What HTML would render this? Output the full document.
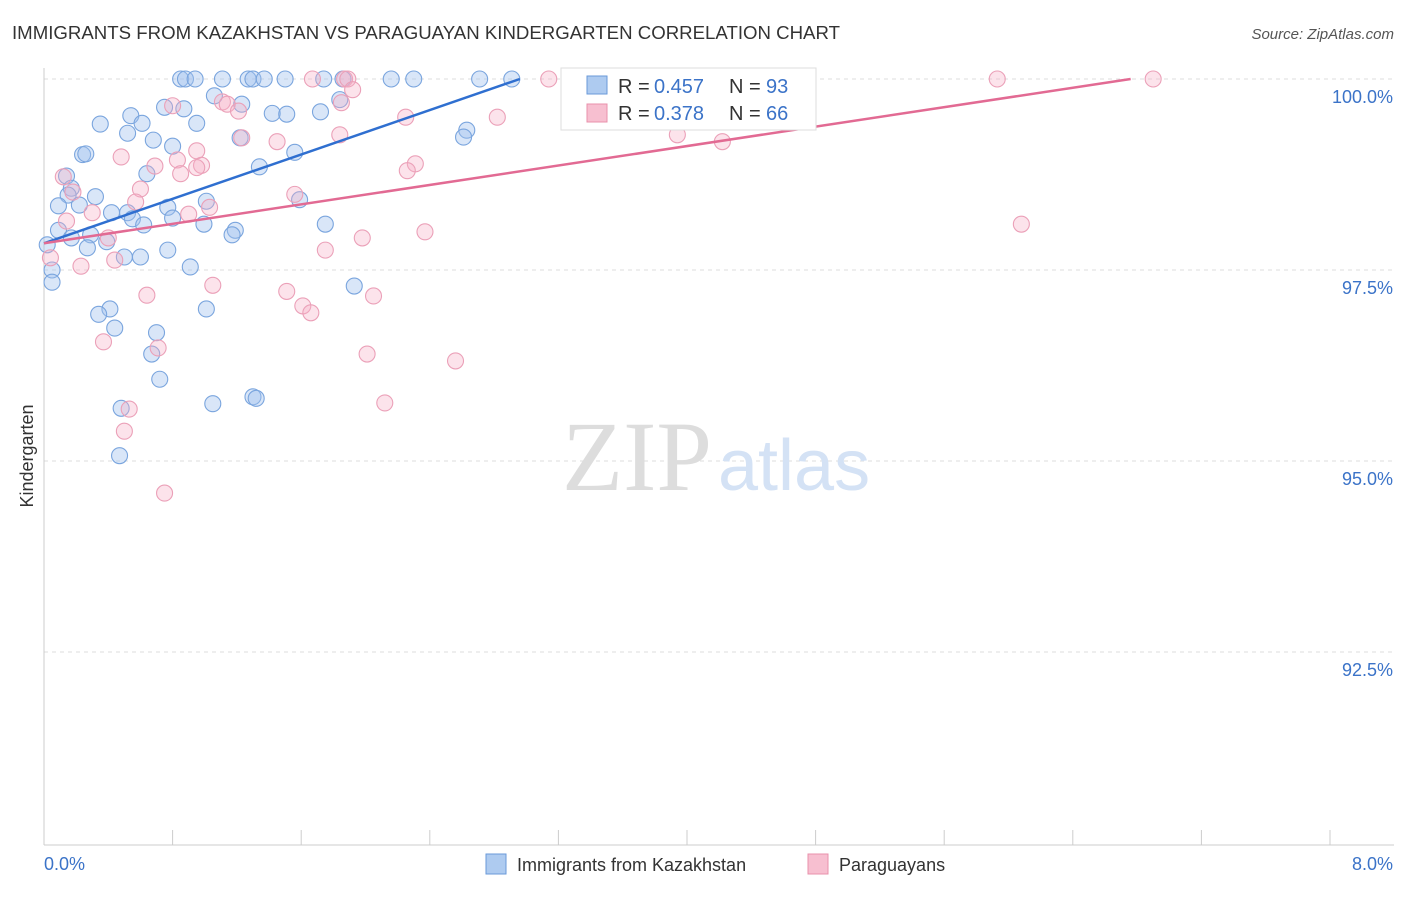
<!DOCTYPE html>
<html><head><meta charset="utf-8"><style>
body{margin:0;background:#fff;font-family:"Liberation Sans",sans-serif}
</style></head><body>
<svg id="chart" width="1406" height="892" viewBox="0 0 1406 892" xmlns="http://www.w3.org/2000/svg" style="font-family:'Liberation Sans',sans-serif">
<text x="12" y="39" font-size="18" fill="#333" textLength="828" lengthAdjust="spacingAndGlyphs">IMMIGRANTS FROM KAZAKHSTAN VS PARAGUAYAN KINDERGARTEN CORRELATION CHART</text>
<text x="1394" y="39" font-size="15" fill="#555" text-anchor="end" font-style="italic">Source: ZipAtlas.com</text>
<g id="grid"></g>
<text x="712" y="490" font-size="100" fill="#ddd" text-anchor="end" style="font-family:'Liberation Serif',serif">ZIP</text>
<text x="718" y="490" font-size="72" fill="#d4e2f5">atlas</text>
<g id="pts"></g>
<g id="lines"></g>
<text transform="translate(33,456) rotate(-90)" font-size="18" fill="#333" text-anchor="middle">Kindergarten</text>
<g>
<rect x="561" y="68" width="255" height="62" fill="#fff" stroke="#ddd"/>
<rect x="587" y="76" width="20" height="18" fill="#aecbf0" stroke="#6a9ad9"/>
<rect x="587" y="104" width="20" height="18" fill="#f7bfd0" stroke="#e890ab"/>
<text x="618" y="93" font-size="20" fill="#333">R =</text>
<text x="654" y="93" font-size="20" fill="#3b73c8">0.457</text>
<text x="729" y="93" font-size="20" fill="#333">N =</text>
<text x="766" y="93" font-size="20" fill="#3b73c8">93</text>
<text x="618" y="120" font-size="20" fill="#333">R =</text>
<text x="654" y="120" font-size="20" fill="#3b73c8">0.378</text>
<text x="729" y="120" font-size="20" fill="#333">N =</text>
<text x="766" y="120" font-size="20" fill="#3b73c8">66</text>
</g>
<g>
<rect x="486" y="854" width="20" height="20" fill="#aecbf0" stroke="#6a9ad9"/>
<text x="517" y="871" font-size="18" fill="#333">Immigrants from Kazakhstan</text>
<rect x="808" y="854" width="20" height="20" fill="#f7bfd0" stroke="#e890ab"/>
<text x="839" y="871" font-size="18" fill="#333">Paraguayans</text>
</g>
</svg>
<script>
const yTicks=[100,97.5,95,92.5];
const yTickLabels=["100.0%","97.5%","95.0%","92.5%"];
const xTickCount=10;
const blueX=[0.85,0.88,0.94,1.11,1.27,1.30,1.37,1.50,1.74,1.86,2.16,2.30,2.71,2.91,3.28,1.06,1.23,0.75,0.87,1.42,1.51,1.72,1.84,0.54,0.35,0.61,0.95,0.52,1.22,0.68,0.80,2.63,2.61,1.56,0.24,0.26,1.34,0.64,0.14,0.17,0.32,0.15,0.09,0.22,1.01,1.59,0.77,0.42,0.52,0.55,0.80,0.62,0.995,1.75,1.19,1.17,0.09,0.17,0.29,0.39,0.27,0.02,0.77,0.50,0.60,0.91,0.05,0.05,1.93,0.41,0.34,1.01,0.44,0.70,0.67,0.72,1.30,1.32,1.05,0.48,0.47];
const blueY=[100,100,100,100,100,100,100,100,100,100,100,100,100,100,100,99.78,99.67,99.63,99.61,99.55,99.54,99.57,99.73,99.52,99.41,99.42,99.42,99.29,99.23,99.20,99.12,99.33,99.24,99.04,99.01,99.02,98.85,98.76,98.73,98.57,98.46,98.48,98.34,98.35,98.40,98.42,98.32,98.25,98.25,98.17,98.18,98.09,98.10,98.10,98.02,97.96,98.02,97.92,97.96,97.87,97.79,97.83,97.76,97.67,97.67,97.54,97.50,97.34,97.29,96.99,96.92,96.99,96.74,96.68,96.40,96.07,95.84,95.82,95.75,95.69,95.07];
const pinkX=[1.67,1.87,1.89,3.14,4.29,5.93,6.90,3.43,1.92,1.85,0.80,1.11,1.14,1.21,2.82,2.25,1.84,1.23,3.94,4.22,1.45,0.95,0.48,0.83,0.69,0.98,0.95,2.31,2.26,0.85,0.12,0.60,0.18,1.56,0.57,1.03,0.90,0.30,0.14,6.08,2.37,0.40,1.98,1.75,0.44,0.23,0.04,1.05,1.51,0.64,2.05,1.61,1.66,0.37,0.71,2.01,2.56,2.12,0.53,0.50,0.75];
const pinkY=[100,100,100,100,100,100,100,99.67,99.86,99.69,99.65,99.70,99.67,99.58,99.50,99.50,99.27,99.23,99.27,99.18,99.18,99.06,98.98,98.94,98.86,98.87,98.84,98.89,98.80,98.76,98.72,98.56,98.52,98.49,98.39,98.32,98.23,98.25,98.14,98.10,98.00,97.92,97.92,97.76,97.63,97.55,97.66,97.30,97.22,97.17,97.16,97.03,96.94,96.56,96.48,96.40,96.31,95.76,95.68,95.39,94.58];
const blueLine=[[0,97.85],[2.96,100]];
const pinkLine=[[0,97.85],[6.76,100]];
const NS="http://www.w3.org/2000/svg";
const X=v=>44+v*160.75, Y=v=>79+(100-v)*76.4;
function mk(t,a,p){const e=document.createElementNS(NS,t);for(const k in a)e.setAttribute(k,a[k]);p.appendChild(e);return e;}
const g=document.getElementById('grid');
yTicks.forEach((t,i)=>{
 const l=mk('line',{x1:44,x2:1394,y1:Y(t),y2:Y(t),stroke:'#ddd','stroke-dasharray':'4,4'},g);
 
 
 const tx=mk('text',{x:1393,y:Y(t)+24,'font-size':18,fill:'#3b73c8','text-anchor':'end'},g);
 tx.textContent=yTickLabels[i];
 
 
});
const ax=mk('line',{x1:44,x2:44,y1:68,y2:845,stroke:'#ccc'},g);


const bx=mk('line',{x1:44,x2:1394,y1:845,y2:845,stroke:'#ccc'},g);


for(let i=0;i<=xTickCount;i++){const v=i*0.8;const t=mk('line',{x1:X(v),x2:X(v),y1:830,y2:845,stroke:'#ccc'},g);
 
 }
const x0=mk('text',{x:44,y:870,'font-size':18,fill:'#3b73c8'},g);x0.textContent='0.0%';


const x1=mk('text',{x:1393,y:870,'font-size':18,fill:'#3b73c8','text-anchor':'end'},g);x1.textContent='8.0%';


const p=document.getElementById('pts');
blueX.forEach((v,i)=>{const c=mk('circle',{cx:X(v),cy:Y(blueY[i]),r:8,fill:'rgba(160,192,238,0.4)',stroke:'#7aa5de','stroke-width':1.1},p);
 
 });
pinkX.forEach((v,i)=>{const c=mk('circle',{cx:X(v),cy:Y(pinkY[i]),r:8,fill:'rgba(245,175,198,0.35)',stroke:'#eba0b8','stroke-width':1.1},p);
 
 });
const L=document.getElementById('lines');
const bl=mk('line',{x1:X(blueLine[0][0]),y1:Y(blueLine[0][1]),x2:X(blueLine[1][0]),y2:Y(blueLine[1][1]),stroke:'#2f6fd0','stroke-width':2.5},L);


const pl=mk('line',{x1:X(pinkLine[0][0]),y1:Y(pinkLine[0][1]),x2:X(pinkLine[1][0]),y2:Y(pinkLine[1][1]),stroke:'#e26a93','stroke-width':2.5},L);


</script>
</body></html>
